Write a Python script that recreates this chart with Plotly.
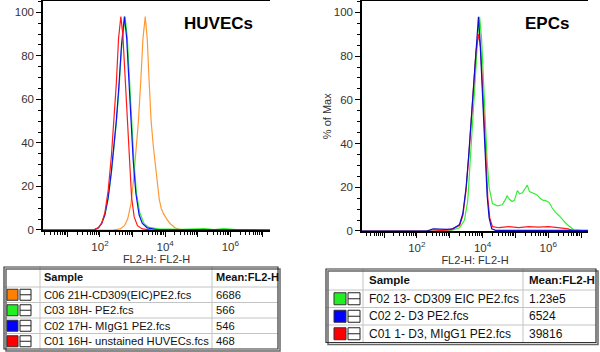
import plotly.graph_objects as go

# ---------------- DATA (log10 of FL2-H, % of Max) ----------------
# HUVECs panel
huv_orange_x = [0.25, 2.4, 2.62, 2.75, 2.85, 2.95, 3.03, 3.1, 3.18, 3.25, 3.32, 3.39, 3.45, 3.51, 3.57,
                3.64, 3.70, 3.76, 3.82, 3.88, 3.95, 4.05, 4.15, 4.3, 4.5, 7.22]
huv_orange_y = [0, 0, 0.5, 2, 5, 12, 23, 35, 50, 68, 88, 98, 88, 68, 50,
                38, 29, 20, 14, 10, 7.5, 5, 3, 1, 0, 0]
huv_green_x = [0.25, 1.8, 1.95, 2.05, 2.15, 2.25, 2.35, 2.43, 2.5, 2.58, 2.66, 2.77, 2.84, 2.91, 2.97,
               3.04, 3.12, 3.22, 3.35, 3.5, 3.8, 4.5, 5.2, 5.5, 5.8, 6.2, 7.22]
huv_green_y = [0, 0, 1, 3, 7, 14, 26, 38, 49, 64, 83, 98, 88, 68, 50,
               32, 17, 8, 3, 1.2, 0.5, 0.3, 0.6, 0.2, 0.6, 0.2, 0]
huv_blue_x = [0.25, 1.8, 1.95, 2.05, 2.15, 2.25, 2.35, 2.43, 2.5, 2.58, 2.66, 2.75, 2.82, 2.89, 2.95,
              3.02, 3.1, 3.2, 3.3, 3.45, 3.7, 7.22]
huv_blue_y = [0, 0, 1, 3, 7, 15, 27, 39, 50, 66, 85, 98, 88, 68, 50,
              32, 17, 7, 3, 1, 0.3, 0]
huv_red_x = [0.25, 1.8, 1.95, 2.05, 2.15, 2.25, 2.35, 2.43, 2.5, 2.57, 2.64, 2.7, 2.77, 2.83, 2.9,
             2.97, 3.05, 3.15, 3.3, 3.6, 7.22]
huv_red_y = [0, 0, 1, 3, 8, 18, 34, 50, 67, 88, 98, 90, 70, 50, 30,
             15, 6, 2, 0.5, 0, 0]

# EPCs panel
epc_green_x = [0.33, 3.0, 3.3, 3.45, 3.55, 3.62, 3.70, 3.78, 3.85, 3.91, 3.97, 4.03, 4.08, 4.14, 4.2,
               4.3, 4.45, 4.6, 4.68, 4.75, 4.82, 4.9, 4.97, 5.06, 5.13, 5.21, 5.28, 5.36, 5.43, 5.51,
               5.58, 5.66, 5.75, 5.85, 5.91, 6.03, 6.12, 6.22, 6.33, 6.45, 6.57, 6.7, 6.78, 7.21]
epc_green_y = [0, 0, 1.5, 5, 14, 30, 50, 70, 88, 98, 88, 68, 50, 32, 20,
               12.5, 11.5, 12, 14, 16, 14.5, 13.5, 14, 18.5, 17, 17.5, 19, 21, 18, 17.5,
               17, 16.5, 15, 14, 14, 13, 10.5, 8.5, 7, 5, 3, 1.5, 0.5, 0]
epc_blue_x = [0.33, 2.3, 2.5, 2.9, 3.1, 3.3, 3.4, 3.5, 3.58, 3.65, 3.72, 3.8, 3.875, 3.92, 3.97,
              4.02, 4.08, 4.14, 4.2, 4.28, 4.4, 7.21]
epc_blue_y = [0, 0, 1, 0.7, 1, 3, 8, 20, 35, 50, 66, 85, 98, 88, 70,
              52, 32, 16, 6, 1, 0.3, 0.3]
epc_red_x = [0.33, 2.5, 3.0, 3.3, 3.4, 3.5, 3.58, 3.65, 3.72, 3.8, 3.88, 3.94, 4.0, 4.05, 4.1,
             4.16, 4.22, 4.3, 4.5, 4.8, 5.1, 5.4, 5.7, 6.0, 6.3, 6.6, 6.8, 7.21]
epc_red_y = [0, 0, 0.5, 2.5, 7, 19, 34, 49, 65, 82, 90, 84, 66, 48, 30,
             15, 6, 2, 1.5, 2, 1.5, 2, 1.8, 2, 1.5, 1, 0, 0]

# Tick labels
y_ticks = [0, 20, 40, 60, 80, 100]
x_decades = [1, 2, 3, 4, 5, 6, 7]
x_labels = ["", "10<sup>2</sup>", "", "10<sup>4</sup>", "", "10<sup>6</sup>", ""]

# Tables
table_header = ["", "Sample", "Mean:FL2-H"]
huv_samples = ["C06 21H-CD309(EIC)PE2.fcs", "C03 18H- PE2.fcs", "C02 17H- MIgG1 PE2.fcs",
               "C01 16H- unstained HUVECs.fcs"]
huv_means = ["6686", "566", "546", "468"]
huv_colors = ["#ff8000", "#22ee22", "#0000ff", "#ff0000"]
epc_samples = ["F02 13- CD309 EIC PE2.fcs", "C02 2- D3 PE2.fcs", "C01 1- D3, MIgG1 PE2.fcs"]
epc_means = ["1.23e5", "6524", "39816"]
epc_colors = ["#22ee22", "#0000ff", "#ff0000"]

W, H = 600, 352
FONT = "Liberation Sans, Arial, sans-serif"


def px(x):
    return x / W


def py(y):
    return 1 - y / H


fig = go.Figure()

pow10 = lambda arr: [10 ** v for v in arr]

for xs, ys, col in [(huv_orange_x, huv_orange_y, "#ff9933"),
                    (huv_green_x, huv_green_y, "#33ee33"),
                    (huv_blue_x, huv_blue_y, "#1010ff"),
                    (huv_red_x, huv_red_y, "#ff1a1a")]:
    fig.add_trace(go.Scatter(x=pow10(xs), y=ys, mode="lines", line=dict(color=col, width=1.2),
                             xaxis="x", yaxis="y", showlegend=False, hoverinfo="skip"))

for xs, ys, col in [(epc_green_x, epc_green_y, "#33ee33"),
                    (epc_red_x, epc_red_y, "#ff1a1a"),
                    (epc_blue_x, epc_blue_y, "#1010cc")]:
    fig.add_trace(go.Scatter(x=pow10(xs), y=ys, mode="lines", line=dict(color=col, width=1.2),
                             xaxis="x2", yaxis="y2", showlegend=False, hoverinfo="skip"))

minor_vals = [k * 10 ** d for d in range(0, 8) for k in range(2, 10)]
tick_font = dict(family=FONT, size=11.5, color="#333")


def xaxis_cfg(dom, rng, anchor):
    return dict(domain=dom, type="log", range=rng, anchor=anchor, automargin=False,
                showline=True, linecolor="black", linewidth=1.5, mirror=True,
                ticks="outside", ticklen=5, tickcolor="black", tickwidth=1,
                tickmode="array", tickvals=[10 ** d for d in x_decades], ticktext=x_labels,
                minor=dict(tickmode="array", tickvals=minor_vals, ticks="outside", ticklen=3,
                           tickcolor="black", tickwidth=1, showgrid=False),
                showgrid=False, zeroline=False, tickfont=tick_font,
                title=dict(text="FL2-H: FL2-H", font=dict(family=FONT, size=11, color="#333"),
                           standoff=2))


def yaxis_cfg(dom, anchor, title=None):
    d = dict(domain=dom, range=[0, 105], anchor=anchor, automargin=False,
             showline=True, linecolor="black", linewidth=1.5,
             ticks="outside", ticklen=5, tickcolor="black", tickwidth=1,
             tickmode="array", tickvals=y_ticks,
             minor=dict(dtick=5, ticks="outside", ticklen=3, tickcolor="black", tickwidth=1,
                        showgrid=False),
             showgrid=False, zeroline=False, tickfont=tick_font)
    if title:
        d["title"] = dict(text=title, font=dict(family=FONT, size=11, color="#333"), standoff=0)
    return d


fig.update_layout(
    xaxis=xaxis_cfg([px(43), px(270)], [0.25, 7.22], "y"),
    yaxis=yaxis_cfg([py(230), 0.996], "x"),
    xaxis2=xaxis_cfg([px(362), px(588)], [0.33, 7.21], "y2"),
    yaxis2=yaxis_cfg([py(231), 0.996], "x2", "% of Max"),
)

# ---------------- Tables (drawn as shapes + text) ----------------
shapes = []
annotations = []


def hline(x0, x1, y, color, w=1):
    shapes.append(dict(type="line", xref="paper", yref="paper", x0=px(x0), x1=px(x1),
                       y0=py(y), y1=py(y), line=dict(color=color, width=w)))


def vline(x, y0, y1, color, w=1):
    shapes.append(dict(type="line", xref="paper", yref="paper", x0=px(x), x1=px(x),
                       y0=py(y0), y1=py(y1), line=dict(color=color, width=w)))


def text(s, x, y, size, bold=False):
    annotations.append(dict(text=f"<b>{s}</b>" if bold else s, x=px(x), y=py(y),
                            xref="paper", yref="paper", xanchor="left", yanchor="middle",
                            showarrow=False, font=dict(family=FONT, size=size, color="#111")))


def draw_table(x0, x1, ytop, col_x, hdr_h, row_h, samples, means, colors, fsize, hsize,
               sw_x, sw_size, pad):
    n = len(samples)
    ybot = ytop + hdr_h + row_h * n
    for i in range(n):
        hline(x0, x1, ytop + hdr_h + row_h * i, "#c4c4c4")
    for cx in col_x:
        vline(cx, ytop, ybot, "#c4c4c4")
    shapes.append(dict(type="rect", xref="paper", yref="paper", x0=px(x0 + 2), x1=px(x1 + 2),
                       y0=py(ybot + 2), y1=py(ytop + 2), line=dict(color="#666", width=1.5)))
    shapes.append(dict(type="rect", xref="paper", yref="paper", x0=px(x0), x1=px(x1),
                       y0=py(ybot), y1=py(ytop), fillcolor="rgba(0,0,0,0)",
                       line=dict(color="#333", width=1.2)))
    text(table_header[1], col_x[0] + pad, ytop + hdr_h / 2, hsize, bold=True)
    text(table_header[2], col_x[1] + pad, ytop + hdr_h / 2, hsize, bold=True)
    for i in range(n):
        yc = ytop + hdr_h + row_h * i + row_h / 2
        text(samples[i], col_x[0] + pad, yc, fsize)
        text(means[i], col_x[1] + pad, yc, fsize)
        shapes.append(dict(type="rect", xref="paper", yref="paper",
                           x0=px(sw_x), x1=px(sw_x + sw_size),
                           y0=py(yc + sw_size / 2), y1=py(yc - sw_size / 2),
                           fillcolor=colors[i], line=dict(color="#333", width=1)))
        bx = sw_x + sw_size + 2
        shapes.append(dict(type="rect", xref="paper", yref="paper",
                           x0=px(bx), x1=px(bx + sw_size),
                           y0=py(yc + sw_size / 2), y1=py(yc - sw_size / 2),
                           fillcolor="white", line=dict(color="#222", width=1)))
        hline(bx, bx + sw_size, yc, "#222")


draw_table(4, 278, 267, [40, 212], 20, 15.5, huv_samples, huv_means, huv_colors, 11.2, 11,
           7, 11, 2)
draw_table(326, 596, 269, [363, 523], 21, 17.5, epc_samples, epc_means, epc_colors, 12, 11.5,
           334, 12, 4)

annotations += [
    dict(text="<b>HUVECs</b>", x=px(218), y=py(24), xref="paper", yref="paper",
         xanchor="center", yanchor="middle",
         showarrow=False, font=dict(family=FONT, size=17, color="black")),
    dict(text="<b>EPCs</b>", x=px(547), y=py(24), xref="paper", yref="paper",
         xanchor="center", yanchor="middle",
         showarrow=False, font=dict(family=FONT, size=17, color="black")),
]

fig.update_layout(
    shapes=shapes,
    annotations=annotations,
    width=W, height=H, margin=dict(l=0, r=0, t=0, b=0),
    paper_bgcolor="white", plot_bgcolor="white",
    font=dict(family=FONT),
)

fig.write_html("out.html", config={"displayModeBar": False})
